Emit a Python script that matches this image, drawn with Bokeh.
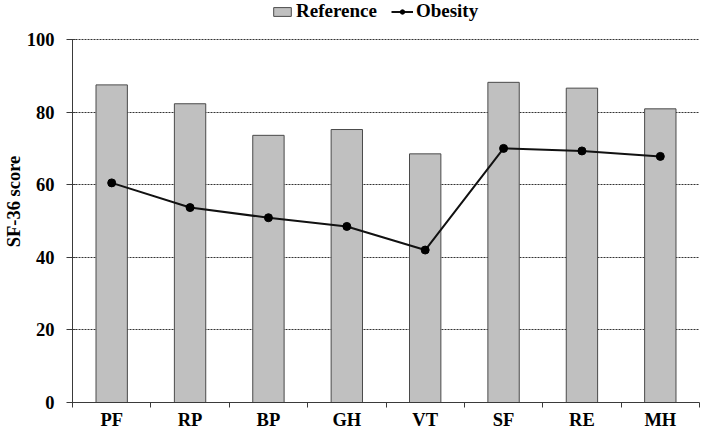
from bokeh.plotting import figure
from bokeh.models import ColumnDataSource, FixedTicker, Legend, LegendItem, Range1d
from bokeh.embed import file_html
from bokeh.resources import INLINE

categories = ["PF", "RP", "BP", "GH", "VT", "SF", "RE", "MH"]
reference = [87.5, 82.3, 73.6, 75.2, 68.5, 88.2, 86.6, 80.9]
obesity = [60.5, 53.7, 50.9, 48.5, 42.0, 70.0, 69.3, 67.8]
y_ticks = [0, 20, 40, 60, 80, 100]

FONT = "Liberation Serif"
H, TOPB, BOTB = 433, 0, 31
FRAME_H = H - TOPB - BOTB
HEADROOM = 39  # px between frame top and the 100 line (space for the legend)
y_end = 100 * FRAME_H / (FRAME_H - HEADROOM)

x = [i + 0.5 for i in range(len(categories))]
src = ColumnDataSource(dict(x=x, cat=categories, ref=reference, obs=obesity))

p = figure(width=701, height=H,
           x_range=Range1d(0, len(categories)), y_range=Range1d(0, y_end),
           output_backend="svg", toolbar_location=None,
           min_border_left=61, min_border_right=2, min_border_top=TOPB, min_border_bottom=BOTB)
p.outline_line_color = None
p.background_fill_color = "white"

bars = p.vbar(x="x", top="ref", width=0.4, source=src,
              fill_color="#c0c0c0", line_color="#4a4a4a", line_width=1)
line = p.line(x="x", y="obs", source=src, line_color="#111111", line_width=2)
pts = p.scatter(x="x", y="obs", source=src, size=8, fill_color="black", line_color="black")

# x axis: labels at centers, ticks at category boundaries
xa = p.xaxis[0]
xa.ticker = FixedTicker(ticks=x, minor_ticks=list(range(len(categories) + 1)))
xa.major_label_overrides = {xi: c for xi, c in zip(x, categories)}
xa.major_tick_in = 0
xa.major_tick_out = 0
xa.minor_tick_in = 0
xa.minor_tick_out = 5
xa.minor_tick_line_color = "#3a3a3a"
xa.axis_line_color = "#3a3a3a"
xa.major_label_standoff = 2
xa.major_label_text_font = FONT
xa.major_label_text_font_style = "bold"
xa.major_label_text_font_size = "18.5px"
xa.major_label_text_color = "black"

ya = p.yaxis[0]
ya.ticker = FixedTicker(ticks=y_ticks, minor_ticks=[])
ya.bounds = (0, 100)
ya.major_tick_in = 3
ya.major_tick_out = 6
ya.major_tick_line_color = "#3a3a3a"
ya.axis_line_color = "#3a3a3a"
ya.major_label_standoff = 12
ya.major_label_text_font = FONT
ya.major_label_text_font_style = "bold"
ya.major_label_text_font_size = "18.5px"
ya.major_label_text_color = "black"
ya.axis_label = "SF-36 score"
ya.axis_label_text_font = FONT
ya.axis_label_text_font_style = "bold"
ya.axis_label_text_font_size = "18.5px"
ya.axis_label_text_color = "black"
ya.axis_label_standoff = 0

p.xgrid.visible = False
p.ygrid.ticker = FixedTicker(ticks=y_ticks, minor_ticks=[])
p.ygrid.grid_line_color = "#333333"
p.ygrid.grid_line_dash = "2 1"
p.ygrid.grid_line_width = 1

legend = Legend(items=[LegendItem(label="Reference", renderers=[bars]),
                       LegendItem(label="Obesity", renderers=[line, pts])],
                location=(199, FRAME_H - 22), orientation="horizontal",
                padding=0, margin=0, spacing=14, label_standoff=3,
                glyph_width=22, glyph_height=11,
                border_line_color=None, background_fill_alpha=0,
                label_text_font=FONT, label_text_font_style="bold",
                label_text_font_size="19px", label_text_color="black")
p.add_layout(legend)

open("out.html", "w").write(file_html(p, INLINE))
